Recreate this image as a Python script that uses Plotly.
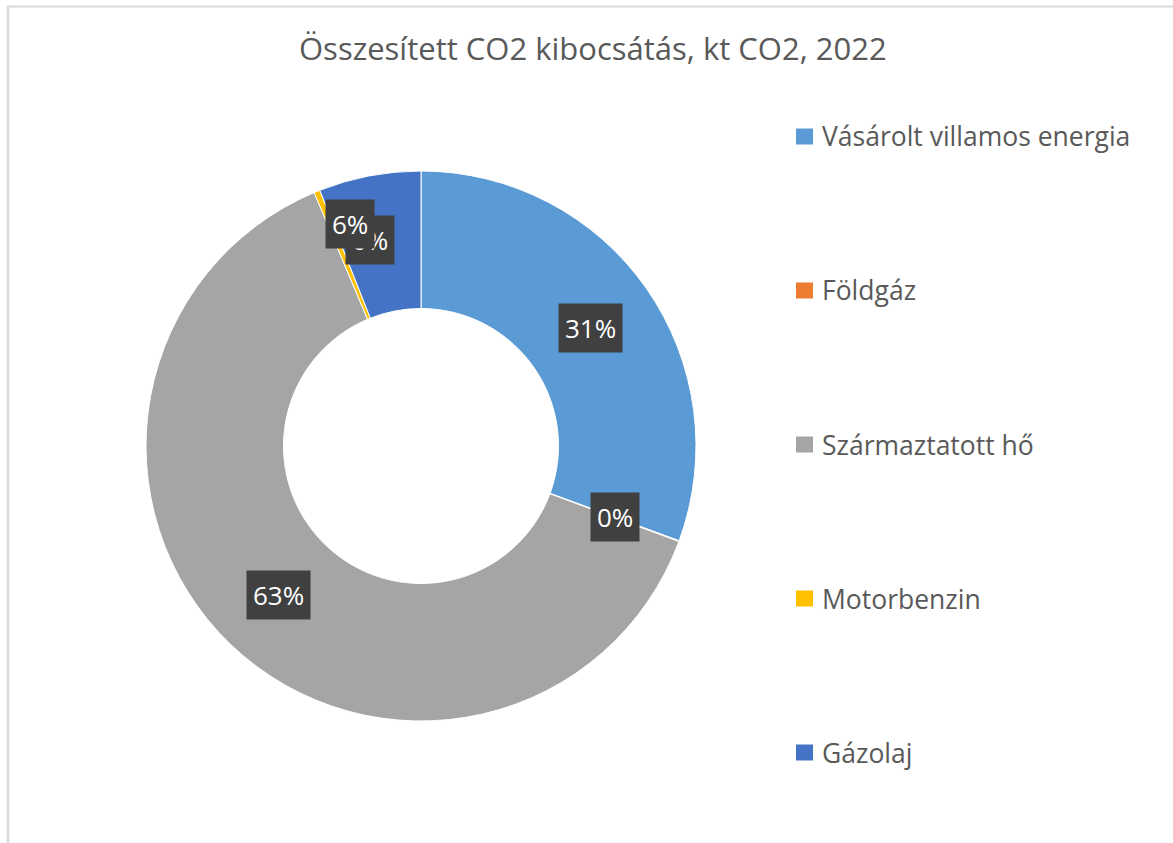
import math
import plotly.graph_objects as go

categories = ["Vásárolt villamos energia", "Földgáz", "Származtatott hő", "Motorbenzin", "Gázolaj"]
shares = [30.6, 0.05, 63.0, 0.35, 6.0]
colors = ["#5B9BD5", "#ED7D31", "#A5A5A5", "#FFC000", "#4472C4"]
title_text = "Összesített CO2 kibocsátás, kt CO2, 2022"

W, H = 1173, 843
cx, cy, R = 421, 446, 275
hole = 0.5
FONT = "Open Sans"

# label nudges (Excel moved overlapping labels), in pixels
label_shift = {3: (27, 15), 4: (-32, 19)}

def px(x):
    return x / W

def py(y):
    return 1 - y / H

fig = go.Figure(go.Pie(
    labels=categories,
    values=shares,
    hole=hole,
    sort=False,
    direction="clockwise",
    rotation=0,
    marker=dict(colors=colors, line=dict(color="white", width=1)),
    textinfo="none",
    hoverinfo="label+percent",
    domain=dict(x=[px(cx - R), px(cx + R)], y=[py(cy + R), py(cy - R)]),
    showlegend=False,
))

total = sum(shares)
annotations = []
shapes = []
cum = 0.0
rmid = R * (1 + hole) / 2
for i, v in enumerate(shares):
    mid = (cum + v / 2) / total * 2 * math.pi
    cum += v
    lx = cx + rmid * math.sin(mid)
    ly = cy - rmid * math.cos(mid)
    dx, dy = label_shift.get(i, (0, 0))
    annotations.append(dict(
        x=px(lx), y=py(ly), xref="paper", yref="paper",
        text=f"{round(v / total * 100)}%", showarrow=False,
        font=dict(family=FONT, size=26, color="white"),
        bgcolor="#404040", borderpad=6, xshift=dx, yshift=dy,
        xanchor="center", yanchor="middle",
    ))

# manual legend
leg_top, leg_step = 136.5, 154
for i, (name, col) in enumerate(zip(categories, colors)):
    yc = leg_top + i * leg_step
    shapes.append(dict(type="rect", xref="paper", yref="paper",
                       x0=px(796), x1=px(813), y0=py(yc + 8), y1=py(yc - 8),
                       fillcolor=col, line=dict(width=0)))
    annotations.append(dict(x=px(820), y=py(yc), xref="paper", yref="paper",
                            text=name, showarrow=False, xanchor="left", yanchor="middle",
                            font=dict(family=FONT, size=26.5, color="#595959")))

# title
annotations.append(dict(x=px(593), y=py(48), xref="paper", yref="paper",
                        text=title_text, showarrow=False, xanchor="center", yanchor="middle",
                        font=dict(family=FONT, size=31, color="#595959")))

# chart frame
shapes.append(dict(type="line", xref="paper", yref="paper", x0=px(7), x1=1, y0=py(6.5), y1=py(6.5),
                   line=dict(color="#D9D9D9", width=2)))
shapes.append(dict(type="line", xref="paper", yref="paper", x0=px(8), x1=px(8), y0=py(6.5), y1=0,
                   line=dict(color="#D9D9D9", width=2.5)))

fig.update_layout(
    width=W, height=H,
    margin=dict(l=0, r=0, t=0, b=0),
    paper_bgcolor="white", plot_bgcolor="white",
    annotations=annotations, shapes=shapes,
)

fig.write_html("out.html", config={"displayModeBar": False},
               post_script="document.body.style.margin='0';")
